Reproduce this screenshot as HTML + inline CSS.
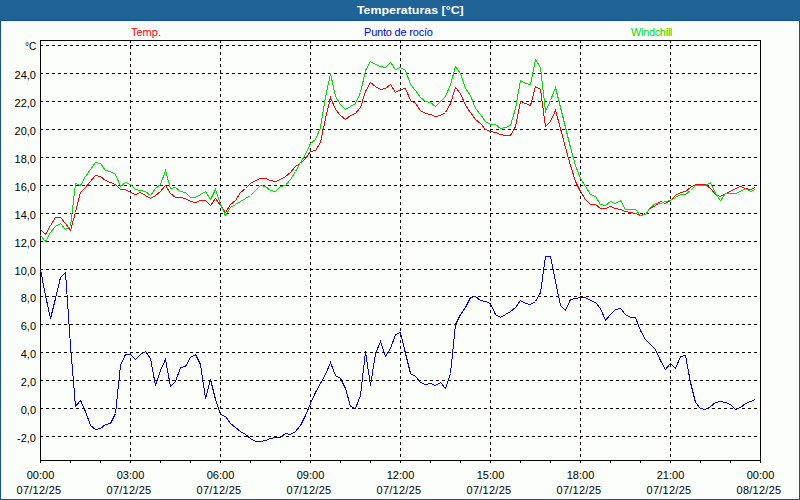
<!DOCTYPE html>
<html><head><meta charset="utf-8"><title>Temperaturas</title>
<style>
html,body{margin:0;padding:0;}
body{width:800px;height:500px;overflow:hidden;background:#0b5392;font-family:"Liberation Sans",sans-serif;position:relative;}
#bar{position:absolute;left:0;top:0;}
#title{position:absolute;left:10.5px;top:0;width:800px;height:21px;line-height:20px;text-align:center;color:#fff;font-weight:bold;font-size:11px;}
#title span{display:inline-block;transform:scaleX(1.128);}
#panel{position:absolute;left:1px;top:21px;width:796px;height:476px;background:#fcfefb;border:1px solid #fff;}
svg{position:absolute;left:0;top:0;}
.lg{position:absolute;top:25px;font-size:11px;line-height:14px;white-space:nowrap;}
.yl{position:absolute;left:0;width:36px;text-align:right;font-size:11px;line-height:14px;color:#000;}
.dc{display:inline-block;transform:scaleX(0.92);transform-origin:100% 50%;}
.xl{position:absolute;top:468px;width:80px;text-align:center;font-size:11px;line-height:15px;color:#000;white-space:nowrap;}
.dt{top:483px;letter-spacing:0.25px;}
</style></head><body>
<svg id="bar" width="800" height="20" shape-rendering="crispEdges"><defs><pattern id="dp" width="4" height="4" patternUnits="userSpaceOnUse"><rect width="4" height="4" fill="#1e6296"/><rect x="1" y="3" width="1" height="1" fill="#2463b3"/><rect x="3" y="1" width="1" height="1" fill="#2463b3"/></pattern></defs><rect width="800" height="20" fill="url(#dp)"/></svg>
<div id="title"><span>Temperaturas [°C]</span></div>
<div id="panel"></div>
<svg width="800" height="500" viewBox="0 0 800 500" shape-rendering="crispEdges">
<g stroke="#000" stroke-width="1" stroke-dasharray="3 3" stroke-dashoffset="1" fill="none"><line x1="41" x2="760" y1="45.5" y2="45.5"/><line x1="41" x2="760" y1="73.5" y2="73.5"/><line x1="41" x2="760" y1="101.5" y2="101.5"/><line x1="41" x2="760" y1="129.5" y2="129.5"/><line x1="41" x2="760" y1="157.5" y2="157.5"/><line x1="41" x2="760" y1="185.5" y2="185.5"/><line x1="41" x2="760" y1="213.5" y2="213.5"/><line x1="41" x2="760" y1="241.5" y2="241.5"/><line x1="41" x2="760" y1="269.5" y2="269.5"/><line x1="41" x2="760" y1="296.5" y2="296.5"/><line x1="41" x2="760" y1="324.5" y2="324.5"/><line x1="41" x2="760" y1="352.5" y2="352.5"/><line x1="41" x2="760" y1="380.5" y2="380.5"/><line x1="41" x2="760" y1="408.5" y2="408.5"/><line x1="41" x2="760" y1="436.5" y2="436.5"/></g>
<g stroke="#000" stroke-width="1" stroke-dasharray="3 3" stroke-dashoffset="1" fill="none"><line x1="130.5" x2="130.5" y1="41" y2="460"/><line x1="220.5" x2="220.5" y1="41" y2="460"/><line x1="310.5" x2="310.5" y1="41" y2="460"/><line x1="400.5" x2="400.5" y1="41" y2="460"/><line x1="490.5" x2="490.5" y1="41" y2="460"/><line x1="580.5" x2="580.5" y1="41" y2="460"/><line x1="670.5" x2="670.5" y1="41" y2="460"/></g>
<g stroke="#000" stroke-width="1" fill="none"><line x1="40.5" x2="40.5" y1="460" y2="463"/><line x1="70.5" x2="70.5" y1="460" y2="463"/><line x1="100.5" x2="100.5" y1="460" y2="463"/><line x1="130.5" x2="130.5" y1="460" y2="463"/><line x1="160.5" x2="160.5" y1="460" y2="463"/><line x1="190.5" x2="190.5" y1="460" y2="463"/><line x1="220.5" x2="220.5" y1="460" y2="463"/><line x1="250.5" x2="250.5" y1="460" y2="463"/><line x1="280.5" x2="280.5" y1="460" y2="463"/><line x1="310.5" x2="310.5" y1="460" y2="463"/><line x1="340.5" x2="340.5" y1="460" y2="463"/><line x1="370.5" x2="370.5" y1="460" y2="463"/><line x1="400.5" x2="400.5" y1="460" y2="463"/><line x1="430.5" x2="430.5" y1="460" y2="463"/><line x1="460.5" x2="460.5" y1="460" y2="463"/><line x1="490.5" x2="490.5" y1="460" y2="463"/><line x1="520.5" x2="520.5" y1="460" y2="463"/><line x1="550.5" x2="550.5" y1="460" y2="463"/><line x1="580.5" x2="580.5" y1="460" y2="463"/><line x1="610.5" x2="610.5" y1="460" y2="463"/><line x1="640.5" x2="640.5" y1="460" y2="463"/><line x1="670.5" x2="670.5" y1="460" y2="463"/><line x1="700.5" x2="700.5" y1="460" y2="463"/><line x1="730.5" x2="730.5" y1="460" y2="463"/><line x1="760.5" x2="760.5" y1="460" y2="463"/><rect x="40.5" y="40.5" width="720" height="420"/></g>
<polyline fill="none" stroke="#ff0000" stroke-width="1" points="40.5,229.5 45.5,234.5 50.5,225.5 55.5,217.5 60.5,217.5 65.5,223.5 70.5,230.5 75.5,212.5 80.5,192.5 85.5,187.5 90.5,181.5 95.5,175.5 100.5,176.5 105.5,180.5 110.5,182.5 115.5,184.5 120.5,189.5 125.5,189.5 130.5,192.5 135.5,194.5 140.5,192.5 145.5,195.5 150.5,198.5 155.5,195.5 160.5,191.5 165.5,185.5 170.5,193.5 175.5,197.5 180.5,197.5 185.5,198.5 190.5,201.5 195.5,202.5 200.5,200.5 205.5,200.5 210.5,205.5 215.5,198.5 220.5,205.5 225.5,212.5 230.5,204.5 235.5,200.5 240.5,192.5 245.5,188.5 250.5,183.5 255.5,180.5 260.5,178.5 265.5,178.5 270.5,180.5 275.5,181.5 280.5,179.5 285.5,176.5 290.5,172.5 295.5,166.5 300.5,163.5 305.5,158.5 310.5,151.5 315.5,150.5 320.5,142.5 325.5,118.5 330.5,97.5 335.5,109.5 340.5,115.5 345.5,119.5 350.5,115.5 355.5,113.5 360.5,107.5 365.5,91.5 370.5,82.5 375.5,86.5 380.5,89.5 385.5,88.5 390.5,84.5 395.5,92.5 400.5,89.5 405.5,88.5 410.5,100.5 415.5,103.5 420.5,110.5 425.5,113.5 430.5,114.5 435.5,116.5 440.5,115.5 445.5,112.5 450.5,103.5 455.5,87.5 460.5,93.5 465.5,105.5 470.5,112.5 475.5,119.5 480.5,123.5 485.5,129.5 490.5,131.5 495.5,132.5 500.5,134.5 505.5,135.5 510.5,135.5 515.5,126.5 520.5,101.5 525.5,103.5 530.5,105.5 535.5,86.5 540.5,89.5 545.5,126.5 550.5,121.5 555.5,110.5 560.5,128.5 565.5,147.5 570.5,165.5 575.5,181.5 580.5,191.5 585.5,199.5 590.5,204.5 595.5,204.5 600.5,208.5 605.5,208.5 610.5,206.5 615.5,208.5 620.5,209.5 625.5,211.5 630.5,212.5 635.5,213.5 640.5,215.5 645.5,213.5 650.5,208.5 655.5,205.5 660.5,201.5 665.5,203.5 670.5,200.5 675.5,195.5 680.5,192.5 685.5,191.5 690.5,187.5 695.5,184.5 700.5,184.5 705.5,184.5 710.5,188.5 715.5,194.5 720.5,196.5 725.5,193.5 730.5,191.5 735.5,188.5 740.5,186.5 745.5,188.5 750.5,189.5 755.5,187.5"/>
<polyline fill="none" stroke="#00e000" stroke-width="1" points="40.5,235.5 45.5,241.5 50.5,232.5 55.5,226.5 60.5,223.5 65.5,229.5 70.5,226.5 75.5,183.5 80.5,185.5 85.5,176.5 90.5,169.5 95.5,162.5 100.5,163.5 105.5,170.5 110.5,171.5 115.5,174.5 120.5,186.5 125.5,182.5 130.5,184.5 135.5,189.5 140.5,190.5 145.5,191.5 150.5,195.5 155.5,188.5 160.5,184.5 165.5,170.5 170.5,188.5 175.5,187.5 180.5,191.5 185.5,192.5 190.5,197.5 195.5,197.5 200.5,194.5 205.5,191.5 210.5,199.5 215.5,189.5 220.5,204.5 225.5,215.5 230.5,207.5 235.5,204.5 240.5,201.5 245.5,198.5 250.5,195.5 255.5,190.5 260.5,185.5 265.5,186.5 270.5,190.5 275.5,191.5 280.5,186.5 285.5,185.5 290.5,179.5 295.5,171.5 300.5,162.5 305.5,154.5 310.5,143.5 315.5,139.5 320.5,127.5 325.5,97.5 330.5,73.5 335.5,96.5 340.5,104.5 345.5,109.5 350.5,106.5 355.5,103.5 360.5,92.5 365.5,70.5 370.5,61.5 375.5,64.5 380.5,66.5 385.5,67.5 390.5,62.5 395.5,69.5 400.5,67.5 405.5,70.5 410.5,84.5 415.5,90.5 420.5,97.5 425.5,101.5 430.5,102.5 435.5,106.5 440.5,101.5 445.5,96.5 450.5,84.5 455.5,66.5 460.5,73.5 465.5,88.5 470.5,95.5 475.5,108.5 480.5,114.5 485.5,121.5 490.5,124.5 495.5,124.5 500.5,128.5 505.5,127.5 510.5,125.5 515.5,108.5 520.5,80.5 525.5,83.5 530.5,84.5 535.5,59.5 540.5,67.5 545.5,111.5 550.5,100.5 555.5,87.5 560.5,107.5 565.5,127.5 570.5,147.5 575.5,165.5 580.5,178.5 585.5,186.5 590.5,194.5 595.5,196.5 600.5,204.5 605.5,205.5 610.5,201.5 615.5,203.5 620.5,200.5 625.5,209.5 630.5,209.5 635.5,209.5 640.5,215.5 645.5,214.5 650.5,207.5 655.5,203.5 660.5,203.5 665.5,201.5 670.5,200.5 675.5,197.5 680.5,194.5 685.5,194.5 690.5,190.5 695.5,185.5 700.5,185.5 705.5,185.5 710.5,182.5 715.5,193.5 720.5,200.5 725.5,193.5 730.5,193.5 735.5,193.5 740.5,191.5 745.5,188.5 750.5,191.5 755.5,189.5"/>
<polyline fill="none" stroke="#0000ff" stroke-width="1" points="40.5,269.5 45.5,295.5 50.5,318.5 55.5,298.5 60.5,277.5 65.5,272.5 70.5,345.5 75.5,406.5 80.5,400.5 85.5,411.5 90.5,425.5 95.5,429.5 100.5,428.5 105.5,424.5 110.5,423.5 115.5,413.5 120.5,365.5 125.5,354.5 130.5,354.5 135.5,359.5 140.5,354.5 145.5,351.5 150.5,358.5 155.5,385.5 160.5,370.5 165.5,359.5 170.5,386.5 175.5,381.5 180.5,367.5 185.5,366.5 190.5,357.5 195.5,354.5 200.5,364.5 205.5,398.5 210.5,379.5 215.5,399.5 220.5,414.5 225.5,416.5 230.5,423.5 235.5,427.5 240.5,431.5 245.5,434.5 250.5,438.5 255.5,441.5 260.5,441.5 265.5,440.5 270.5,438.5 275.5,437.5 280.5,437.5 285.5,433.5 290.5,434.5 295.5,431.5 300.5,425.5 305.5,415.5 310.5,403.5 315.5,392.5 320.5,383.5 325.5,374.5 330.5,362.5 335.5,375.5 340.5,378.5 345.5,388.5 350.5,406.5 355.5,408.5 360.5,395.5 365.5,351.5 370.5,385.5 375.5,353.5 380.5,341.5 385.5,356.5 390.5,348.5 395.5,334.5 400.5,332.5 405.5,353.5 410.5,373.5 415.5,376.5 420.5,382.5 425.5,384.5 430.5,383.5 435.5,385.5 440.5,382.5 445.5,388.5 450.5,373.5 455.5,324.5 460.5,314.5 465.5,307.5 470.5,297.5 475.5,296.5 480.5,300.5 485.5,301.5 490.5,303.5 495.5,314.5 500.5,317.5 505.5,314.5 510.5,311.5 515.5,307.5 520.5,300.5 525.5,303.5 530.5,304.5 535.5,301.5 540.5,292.5 545.5,256.5 550.5,256.5 555.5,281.5 560.5,305.5 565.5,310.5 570.5,299.5 575.5,298.5 580.5,297.5 585.5,297.5 590.5,300.5 595.5,302.5 600.5,308.5 605.5,320.5 610.5,314.5 615.5,309.5 620.5,308.5 625.5,314.5 630.5,317.5 635.5,317.5 640.5,330.5 645.5,339.5 650.5,344.5 655.5,349.5 660.5,360.5 665.5,369.5 670.5,363.5 675.5,368.5 680.5,356.5 685.5,355.5 690.5,382.5 695.5,402.5 700.5,408.5 705.5,409.5 710.5,406.5 715.5,402.5 720.5,401.5 725.5,402.5 730.5,404.5 735.5,409.5 740.5,407.5 745.5,403.5 750.5,401.5 755.5,399.5"/>
</svg>
<div class="lg" style="left:131px;color:#ff0000">Temp.</div>
<div class="lg" style="left:364px;color:#0000ff;letter-spacing:-0.2px">Punto de rocío</div>
<div class="lg" style="left:631px;color:#00dd00;letter-spacing:-0.34px">Windchill</div>
<div class="yl" style="top:39px"><span class=dc>°C</span></div><div class="yl" style="top:68px">24,0</div><div class="yl" style="top:96px">22,0</div><div class="yl" style="top:124px">20,0</div><div class="yl" style="top:152px">18,0</div><div class="yl" style="top:180px">16,0</div><div class="yl" style="top:208px">14,0</div><div class="yl" style="top:236px">12,0</div><div class="yl" style="top:264px">10,0</div><div class="yl" style="top:291px">8,0</div><div class="yl" style="top:319px">6,0</div><div class="yl" style="top:347px">4,0</div><div class="yl" style="top:375px">2,0</div><div class="yl" style="top:403px">0,0</div><div class="yl" style="top:431px">-2,0</div>
<div class="xl" style="left:0.5px">00:00</div><div class="xl dt" style="left:-1px">07/12/25</div><div class="xl" style="left:90.5px">03:00</div><div class="xl dt" style="left:89px">07/12/25</div><div class="xl" style="left:180.5px">06:00</div><div class="xl dt" style="left:179px">07/12/25</div><div class="xl" style="left:270.5px">09:00</div><div class="xl dt" style="left:269px">07/12/25</div><div class="xl" style="left:360.5px">12:00</div><div class="xl dt" style="left:359px">07/12/25</div><div class="xl" style="left:450.5px">15:00</div><div class="xl dt" style="left:449px">07/12/25</div><div class="xl" style="left:540.5px">18:00</div><div class="xl dt" style="left:539px">07/12/25</div><div class="xl" style="left:630.5px">21:00</div><div class="xl dt" style="left:629px">07/12/25</div><div class="xl" style="left:720.5px">00:00</div><div class="xl dt" style="left:719px">08/12/25</div>
</body></html>
